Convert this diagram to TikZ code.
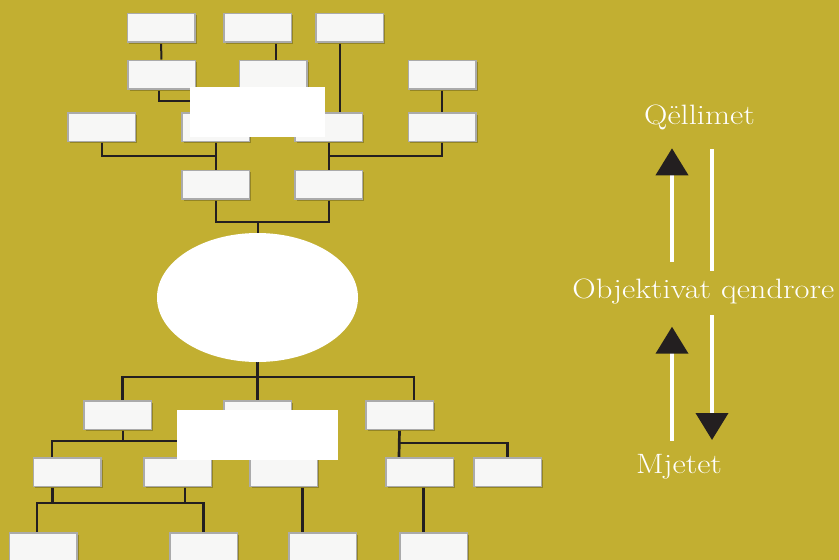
\documentclass[tikz,border=0pt]{standalone}
\usepackage{graphicx}
\usetikzlibrary{shapes.geometric,shadows,arrows.meta}
\definecolor{bg}{HTML}{C2AF31}
\definecolor{boxfill}{HTML}{F7F7F6}
\definecolor{boxline}{HTML}{ABABAB}
\definecolor{shadowc}{HTML}{8F8122}
\definecolor{ink}{HTML}{231F20}
\pgfdeclarelayer{paper}
\pgfdeclarelayer{wires}
\pgfsetlayers{paper,wires,main}
\tikzset{
  bx/.style={draw=boxline, line width=1.5pt, fill=boxfill, minimum width=67.5pt,
    minimum height=28.5pt, inner sep=0pt,
    drop shadow={shadow xshift=2pt, shadow yshift=-2pt, fill=shadowc, opacity=0.9}},
  link/.style={draw=ink, line width=2pt},
  linkb/.style={draw=ink, line width=2.7pt},
  cover/.style={fill=white, draw=none, inner sep=0pt},
  lbl/.style={text=white, anchor=base, inner sep=0pt, font=\fontsize{28}{33}\selectfont},
  flow/.style={draw=white, line width=4pt},
  flowtip/.style={-{Triangle[length=27pt,width=32pt,color=ink,fill=ink]}}
}
\newcommand{\wide}[1]{\scalebox{1.16}[1]{#1}}
\begin{document}
\begin{tikzpicture}[x=1pt,y=-1pt]
\useasboundingbox (0,0) rectangle (839,560);
\begin{pgfonlayer}{paper}
\fill[bg] (0,0) rectangle (839,560);
\end{pgfonlayer}

% upper tree boxes
\node[bx] (A1) at (161,27.5) {};
\node[bx] (A2) at (257.5,27.5) {};
\node[bx] (A3) at (349.5,27.5) {};
\node[bx] (B1) at (161.5,74.5) {};
\node[bx] (B2) at (273,74.5) {};
\node[bx] (B3) at (442,74.5) {};
\node[bx] (C1) at (101.5,127) {};
\node[bx] (C2) at (215.5,127) {};
\node[bx] (C3) at (328.5,127) {};
\node[bx] (C4) at (442,127) {};
\node[bx] (D1) at (215.5,184.5) {};
\node[bx] (D2) at (328.5,184.5) {};

% centre
\node[ellipse, fill=white, minimum width=201pt, minimum height=129pt, inner sep=0pt] (core) at (257.5,297.5) {};

% lower tree boxes
\node[bx] (E1) at (117.5,415) {};
\node[bx] (E2) at (257.5,415) {};
\node[bx] (E3) at (399.5,415) {};
\node[bx] (F1) at (67,472) {};
\node[bx] (F2) at (177.5,472) {};
\node[bx] (F3) at (283.5,472) {};
\node[bx] (F4) at (419.5,472) {};
\node[bx] (F5) at (507.5,472) {};
\node[bx] (G1) at (43,547) {};
\node[bx] (G2) at (203.5,547) {};
\node[bx] (G3) at (322.5,547) {};
\node[bx] (G4) at (433.5,547) {};

\begin{pgfonlayer}{wires}
% connectors, upper tree
\draw[link] (A1.south) -- (B1.north);
\draw[link] ([xshift=18.5pt]A2.south) -- ([xshift=3pt]B2.north);
\draw[link] ([xshift=-9.5pt]A3.south) -- ([xshift=11.5pt]C3.north);
\draw[link] ([xshift=-2.5pt]B1.south) |- ([yshift=11pt]C2.north) -- (C2.north);
\draw[link] (B3.south) -- (C4.north);
\coordinate (jL) at ([yshift=14pt]D1.north);
\coordinate (jR) at ([yshift=14pt]D2.north);
\draw[link] (C1.south) |- (jL);
\draw[link] (C2.south) -- (D1.north);
\draw[link] (C3.south) -- (D2.north);
\draw[link] (C4.south) |- (jR);
\coordinate (jD) at ([yshift=-22pt]D1.south);
\draw[link] (D1.south) |- (jD -| D2.south) -- (D2.south);
\draw[link] (core.north |- jD) -- (core.north);

% connectors, lower tree
\coordinate (jE) at ([yshift=23pt]E2.north);
\draw[linkb] (core.south) -- (E2.north);
\draw[linkb] ([xshift=5pt]E1.north) |- (jE) -| ([xshift=14.5pt]E3.north);
\draw[linkb] ([xshift=5.5pt]E1.south) -- ([xshift=5.5pt,yshift=-11pt]E1.south);
\draw[linkb] ([xshift=-15pt]F1.north) |- ([yshift=16pt]F3.north) -- (F3.north);
\draw[linkb] ([xshift=-20.5pt]F4.north) |- ([yshift=14pt]F5.north) -- (F5.north);
\draw[linkb] (E3.south) -- ([xshift=-20.5pt]F4.north);
\draw[linkb] ([xshift=-14.5pt]F1.south) -- ([xshift=-14.5pt,yshift=-16pt]F1.south);
\draw[linkb] ([xshift=-6pt]G1.north) |- ([yshift=29pt]G2.north) -- (G2.north);
\draw[linkb] ([xshift=7.5pt]F2.south) -- ([xshift=7.5pt,yshift=-16pt]F2.south);
\draw[linkb] ([xshift=19pt]F3.south) -- ([xshift=-20pt]G3.north);
\draw[linkb] ([xshift=4pt]F4.south) -- ([xshift=-10pt]G4.north);
\end{pgfonlayer}

% blank labels laid over the trees
\node[cover, minimum width=135pt, minimum height=49.7pt] (blankTop) at (257.5,111.85) {};
\node[cover, minimum width=161pt, minimum height=50pt] (blankBottom) at (257.5,435) {};

% right-hand legend
\node[lbl] (goal) at (699.5,124.5) {\wide{Qëllimet}};
\node[lbl] (centre) at (703.3,298.3) {\wide{Objektivat qendrore}};
\node[lbl] (means) at (679,473.3) {\wide{Mjetet}};

\coordinate (u1s) at (672,261.7); \coordinate (u1e) at (672,148.3);
\coordinate (u2s) at (712,149.3); \coordinate (u2e) at (712,271);
\coordinate (d1s) at (672,440.7); \coordinate (d1e) at (672,326.7);
\coordinate (d2s) at (712,315);   \coordinate (d2e) at (712,440);
\draw[flow, flowtip] (u1s) -- (u1e);
\draw[flow] (u2s) -- (u2e);
\draw[flow, flowtip] (d1s) -- (d1e);
\draw[flow, flowtip] (d2s) -- (d2e);
\end{tikzpicture}
\end{document}
